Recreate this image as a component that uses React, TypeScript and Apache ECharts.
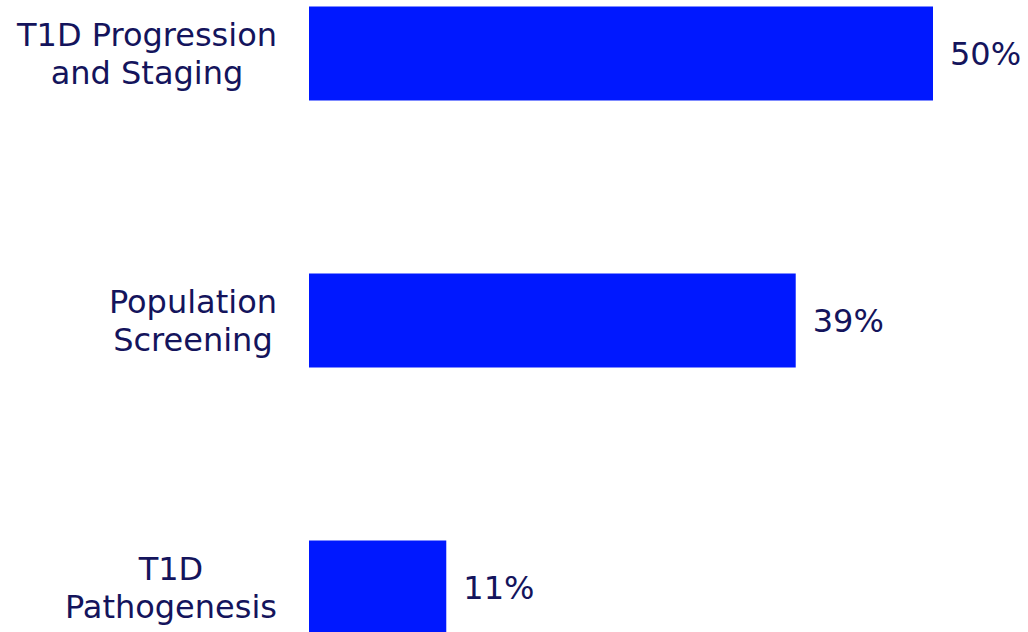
import React, { useEffect, useRef } from "react";
import * as echarts from "echarts";

const categories = ["T1D Progression\nand Staging", "Population\nScreening", "T1D\nPathogenesis"];
const values = [50, 39, 11];

const BAR_COLOR = "#0018ff";
const TEXT_COLOR = "#14145c";
const FONT = "'DejaVu Sans', Verdana, sans-serif";
const FONT_SIZE = 32;

export default function App() {
  const ref = useRef<HTMLDivElement>(null);
  useEffect(() => {
    if (!ref.current) return;
    const chart = echarts.init(ref.current, null, { renderer: "svg" });
    chart.setOption({
      animation: false,
      backgroundColor: "#ffffff",
      grid: {
        left: 309,
        top: -80,
        width: 748.8,
        height: 801,
        containLabel: false,
        outerBoundsMode: "none",
      },
      xAxis: {
        type: "value",
        min: 0,
        max: 60,
        show: false,
      },
      yAxis: {
        type: "category",
        data: categories,
        inverse: true,
        axisLine: { show: false },
        axisTick: { show: false },
        splitLine: { show: false },
        axisLabel: {
          margin: 32,
          fontSize: FONT_SIZE,
          lineHeight: 38,
          color: TEXT_COLOR,
          fontFamily: FONT,
          align: "right",
          formatter: (v: string) => `{c|${v}}`,
          rich: {
            c: {
              align: "center",
              fontSize: FONT_SIZE,
              lineHeight: 38,
              color: TEXT_COLOR,
              fontFamily: FONT,
            },
          },
        },
      },
      series: [
        {
          type: "bar",
          data: values,
          barWidth: 94,
          itemStyle: { color: BAR_COLOR },
          label: {
            show: true,
            position: "right",
            distance: 17,
            formatter: "{c}%",
            fontSize: FONT_SIZE,
            color: TEXT_COLOR,
            fontFamily: FONT,
          },
        },
      ],
    });
    return () => chart.dispose();
  }, []);
  return (
    <div
      ref={ref}
      style={{ position: "absolute", left: 0, top: 0, width: 1028, height: 632 }}
    />
  );
}
